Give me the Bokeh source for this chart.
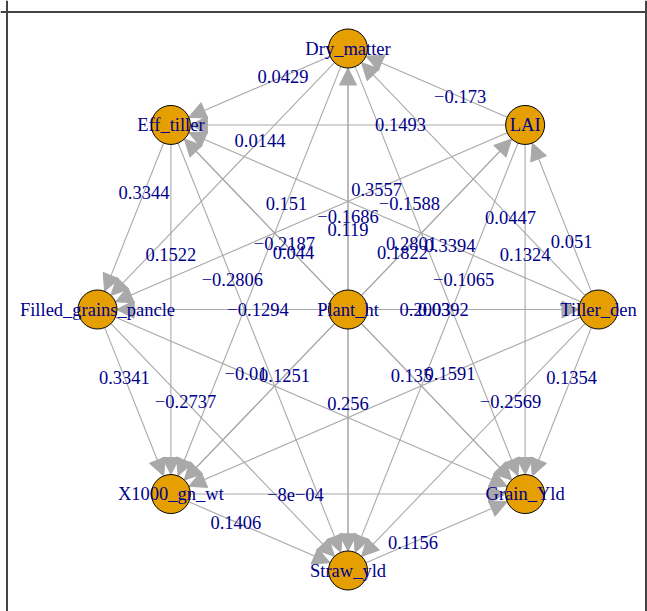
import numpy as np
from bokeh.plotting import figure
from bokeh.models import ColumnDataSource, Arrow, NormalHead, Range1d, Span
from bokeh.core.properties import value
from bokeh.embed import file_html
from bokeh.resources import INLINE

# Trait nodes: eight on a circle (clockwise from the top) plus one in the centre
ring_nodes = ["Dry_matter", "LAI", "Tiller_den", "Grain_Yld", "Straw_yld",
              "X1000_gn_wt", "Filled_grains_pancle", "Eff_tiller"]
centre_node = "Plant_ht"

# Directed path coefficients: source -> target
edge_from = ["LAI", "Tiller_den", "Tiller_den", "Straw_yld", "X1000_gn_wt",
             "Filled_grains_pancle", "Eff_tiller", "Dry_matter",
             "Tiller_den", "LAI", "Tiller_den", "X1000_gn_wt", "Filled_grains_pancle",
             "Eff_tiller", "Dry_matter", "LAI",
             "Dry_matter", "LAI", "Tiller_den", "Filled_grains_pancle", "Eff_tiller",
             "Dry_matter", "LAI", "Tiller_den",
             "Dry_matter", "LAI", "Tiller_den", "Eff_tiller",
             "Plant_ht", "Plant_ht", "Plant_ht", "Plant_ht", "Plant_ht",
             "Plant_ht", "Plant_ht", "Plant_ht"]
edge_to = ["Dry_matter", "LAI", "Grain_Yld", "Grain_Yld", "Straw_yld",
           "X1000_gn_wt", "Filled_grains_pancle", "Eff_tiller",
           "Dry_matter", "Grain_Yld", "Straw_yld", "Grain_Yld", "Straw_yld",
           "X1000_gn_wt", "Filled_grains_pancle", "Eff_tiller",
           "Grain_Yld", "Straw_yld", "X1000_gn_wt", "Grain_Yld", "Straw_yld",
           "X1000_gn_wt", "Filled_grains_pancle", "Eff_tiller",
           "Straw_yld", "X1000_gn_wt", "Filled_grains_pancle", "Grain_Yld",
           "Dry_matter", "LAI", "Tiller_den", "Grain_Yld", "Straw_yld",
           "X1000_gn_wt", "Filled_grains_pancle", "Eff_tiller"]
edge_coef = [-0.173, 0.051, 0.1354, 0.1156, 0.1406,
             0.3341, 0.3344, 0.0429,
             0.0447, 0.1324, -0.2569, -0.0008, -0.2737,
             0.1522, 0.0144, 0.1493,
             -0.1588, -0.1065, 0.1591, -0.01, -0.2806,
             0.151, 0.3557, 0.3394,
             0.119, 0.1822, 0.2003, 0.044,
             -0.1686, 0.2801, -0.0392, 0.135, 0.256,
             0.1251, -0.1294, -0.2187]

# Pixel scale of one layout unit, and vertex radius in pixels
SX, SY = 250.5, 261.0
R_PX = 19.5
W, H = 647, 611
CX, CY = 347.5, 309.0

# Circular layout with the centre node at the origin
angles = np.deg2rad(90 - 45 * np.arange(len(ring_nodes)))
pos = {n: (np.cos(a), np.sin(a)) for n, a in zip(ring_nodes, angles)}
pos[centre_node] = (0.0, 0.0)
names = ring_nodes + [centre_node]


def fmt(v):
    if v != 0 and abs(v) < 1e-3:
        s = f"{v:.0e}"
    else:
        s = f"{v:.4f}".rstrip("0").rstrip(".")
    return s.replace("-", "\u2212")


x0s, y0s, x1s, y1s, lx, ly, lt = [], [], [], [], [], [], []
for a, b, c in zip(edge_from, edge_to, edge_coef):
    ax, ay = pos[a][0] * SX, pos[a][1] * SY
    bx, by = pos[b][0] * SX, pos[b][1] * SY
    d = np.hypot(bx - ax, by - ay)
    ux, uy = (bx - ax) / d, (by - ay) / d
    sx0, sy0 = ax + R_PX * ux, ay + R_PX * uy
    sx1, sy1 = bx - R_PX * ux, by - R_PX * uy
    x0s.append(sx0 / SX); y0s.append(sy0 / SY)
    x1s.append(sx1 / SX); y1s.append(sy1 / SY)
    lx.append((2 * sx0 + sx1) / 3 / SX)
    ly.append((2 * sy0 + sy1) / 3 / SY)
    lt.append(fmt(c))

edges = ColumnDataSource(dict(x0=x0s, y0=y0s, x1=x1s, y1=y1s))
elabels = ColumnDataSource(dict(x=lx, y=ly, text=lt))
nodes = ColumnDataSource(dict(x=[pos[n][0] for n in names],
                              y=[pos[n][1] for n in names],
                              text=names))

p = figure(width=W, height=H, output_backend="svg", toolbar_location=None,
           x_range=Range1d(-CX / SX, (W - CX) / SX),
           y_range=Range1d(-(H - CY) / SY, CY / SY),
           min_border=0, outline_line_color=None)
p.axis.visible = False
p.grid.visible = False
p.background_fill_color = "white"

# Box around the drawing area
for loc, dim in [((6.5 - CX) / SX, "height"), ((645.5 - CX) / SX, "height"),
                 ((CY - 11.5) / SY, "width")]:
    p.add_layout(Span(location=loc, dimension=dim, line_color="#444444", line_width=2))

head = NormalHead(size=17, fill_color="#A9A9A9", line_color="#A9A9A9", line_width=1)
p.add_layout(Arrow(end=head, x_start="x0", y_start="y0", x_end="x1", y_end="y1",
                   source=edges, line_color="#A9A9A9", line_width=1.1, level="underlay"))

font = value("Liberation Serif")
p.text(x="x", y="y", text="text", source=elabels, text_font=font,
       text_font_size="18.5px", text_color="#00008B",
       text_align="center", text_baseline="middle")

p.scatter(x="x", y="y", source=nodes, size=39, fill_color="#E69F00",
          line_color="black", line_width=1)
p.text(x="x", y="y", text="text", source=nodes, text_font=font,
       text_font_size="18.5px", text_color="#00008B",
       text_align="center", text_baseline="middle")

open("out.html", "w").write(file_html(p, INLINE))
